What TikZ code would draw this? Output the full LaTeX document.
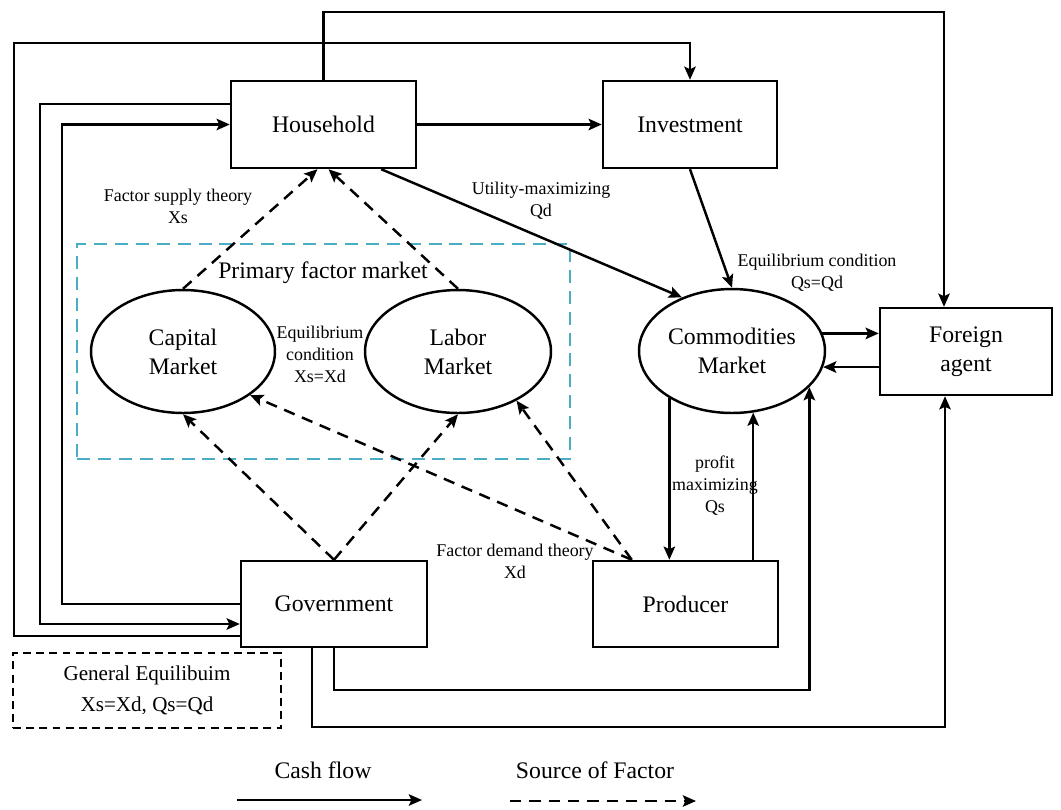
\documentclass[tikz,border=0pt]{standalone}
\usepackage{fontspec}
\setmainfont{Liberation Serif}
\usetikzlibrary{arrows.meta,calc,shapes.geometric}
\definecolor{pfmblue}{HTML}{4BACC6}
\begin{document}
\begin{tikzpicture}[x=0.02cm,y=-0.02cm,
  >={Stealth[length=7.5pt,width=6.5pt,inset=1.5pt]},
  box/.style={draw,line width=1.4pt,rectangle,inner sep=0pt,align=center,font=\fontsize{13.5}{16.5}\selectfont},
  mkt/.style={draw,line width=1.4pt,ellipse,inner sep=0pt,align=center,font=\fontsize{13.5}{16.5}\selectfont},
  cash/.style={draw,line width=1.4pt,->},
  fac/.style={draw,line width=1.4pt,dash pattern=on 6.5pt off 4.5pt,->},
  big/.style={font=\fontsize{13.5}{16.5}\selectfont,inner sep=0pt},
  small/.style={font=\fontsize{10.2}{12.5}\selectfont,align=center,inner sep=0pt},
]
\useasboundingbox (0,0) rectangle (1061,809);

% blue primary factor market frame
\node[draw=pfmblue,line width=1.4pt,dash pattern=on 7.4pt off 4.5pt,minimum width=9.86cm,minimum height=4.3cm,inner sep=0pt] (pfm) at (323.5,351.5) {};
\node[big] (pfmlabel) at (323,273) {Primary factor market};

% boxes
\node[box,minimum width=3.7cm,minimum height=1.74cm] (hh) at (323.5,124.5) {Household};
\node[box,minimum width=3.48cm,minimum height=1.74cm] (inv) at (690,124.5) {Investment};
\node[box,minimum width=3.72cm,minimum height=1.72cm] (gov) at (334,604) {Government};
\node[box,minimum width=3.7cm,minimum height=1.72cm] (prod) at (685.5,604) {Producer};
\node[box,minimum width=3.44cm,minimum height=1.74cm] (for) at (966,351.5) {Foreign\\agent};

% markets
\node[mkt,minimum width=3.68cm,minimum height=2.46cm] (cap) at (183,351.5) {Capital\\Market};
\node[mkt,minimum width=3.72cm,minimum height=2.46cm] (lab) at (458,351.5) {Labor\\Market};
\node[mkt,minimum width=3.72cm,minimum height=2.48cm] (com) at (732,351) {Commodities\\Market};

% general equilibrium box
\node[draw,line width=1.3pt,dash pattern=on 4.5pt off 3pt,minimum width=5.36cm,minimum height=1.5cm,inner sep=0pt,align=center,font=\fontsize{12}{18}\selectfont] (ge) at (147,690.5) {General Equilibuim\\Xs=Xd, Qs=Qd};

% labels
\node[small] (fst) at (178,206) {Factor supply theory\\Xs};
\node[small] (umq) at (541,201) {Utility-maximizing\\Qd};
\node[small] (ecq) at (817,273) {Equilibrium condition\\Qs=Qd};
\node[small] (ecx) at (320,354) {Equilibrium\\condition\\Xs=Xd};
\node[small] (pmq) at (715,486) {profit\\maximizing\\Qs};
\node[small] (fdt) at (515,561) {Factor demand theory\\Xd};

% helper coordinates
\coordinate (t1) at (323.5,12);
\coordinate (t2) at (944,12);
\coordinate (yb1) at (0,690);
\coordinate (yb2) at (0,727);
\coordinate (fb) at ($(for.south)+(-21,0)$);

% cash flows
\draw[cash] (hh.north) -- (t1) -- (t2) -- (t2 |- for.north);
\draw[cash] ($(gov.west)+(0,32)$) -| (14,43) -| (inv.north);
\draw[cash] ($(hh.west)+(0,-20.5)$) -| (40,624) -- ($(gov.west)+(0,20)$);
\draw[cash] (gov.west) -| (62,124.5) -- (hh.west);
\draw[cash] (hh.east) -- (inv.west);
\draw[cash] ($(hh.south east)+(-36,0)$) -- (com.133);
\draw[cash] (inv.south) -- (com.north);
\draw[cash] (com.11) -- (com.11 -| for.west);
\draw[cash] (com.350 -| for.west) -- (com.350);
\draw[cash] (com.217.5) -- (com.217.5 |- prod.north);
\draw[cash] (prod.north -| com.289.2) -- (com.289.2);
\draw[cash] (gov.south) |- (com.335.7 |- yb1) -- (com.335.7);
\draw[cash] ($(gov.south)+(-22,0)$) |- (fb |- yb2) -- (fb);

% factor flows
\draw[fac] (cap.north) -- ($(hh.south)+(-6,0)$);
\draw[fac] (lab.north) -- ($(hh.south)+(5,0)$);
\draw[fac] (gov.north) -- (cap.south);
\draw[fac] (gov.north) -- (lab.south);
\draw[fac] ($(prod.north west)+(40,0)$) -- (cap.327);
\draw[fac] ($(prod.north west)+(40,0)$) -- (lab.320.6);

% legend
\node[big] (lcash) at (323,770) {Cash flow};
\coordinate (lc1) at (237,800);
\coordinate (lc2) at (422,800);
\draw[cash] (lc1) -- (lc2);
\node[big] (lsrc) at (595,770) {Source of Factor};
\coordinate (ls1) at (510,801);
\coordinate (ls2) at (696,801);
\draw[fac] (ls1) -- (ls2);
\end{tikzpicture}
\end{document}
